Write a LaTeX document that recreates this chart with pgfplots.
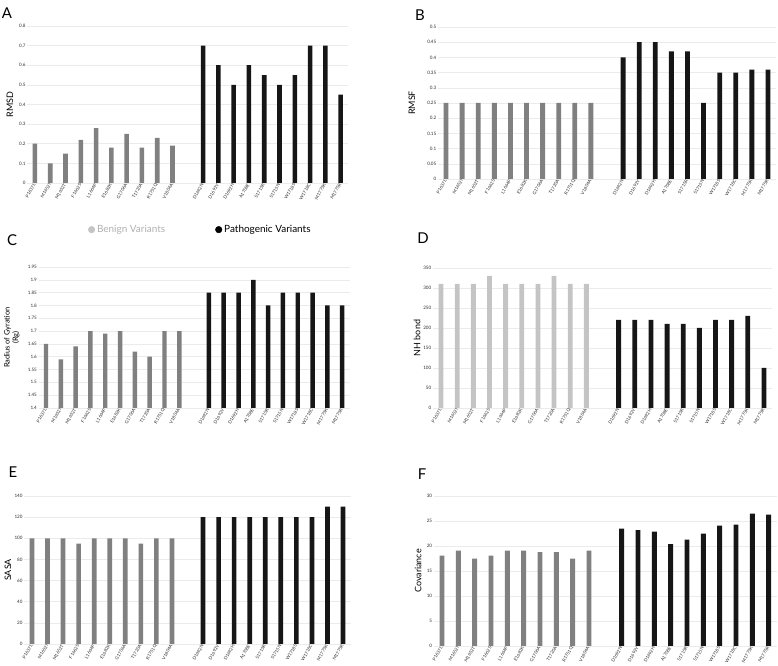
\documentclass[border=0pt]{standalone}
\usepackage{pgfplots}
\pgfplotsset{compat=1.18}
\usepackage{fontspec}
\setmainfont{Lato}
\definecolor{benign}{HTML}{808080}
\definecolor{benignlight}{HTML}{C4C4C4}
\definecolor{patho}{HTML}{161616}
\definecolor{gridc}{HTML}{EBEBEB}
\definecolor{tickc}{HTML}{2E2E2E}
\definecolor{legbenign}{HTML}{B0B0B0}
\pgfplotsset{
  panel/.style={
    scale only axis, xmin=-0.5, xmax=20.5, ymin=0,
    axis line style={draw=none}, major tick length=0pt,
    ymajorgrids, grid style={color=gridc, line width=0.5bp},
    xtick={0,1,2,3,4,5,6,7,8,9,11,12,13,14,15,16,17,18,19,20},
    xticklabels={P1637L,M1652I,M1652T,F1662S,L1664P,E1682K,G1706A,T1720A,R1751Q,V1804A,D1692N,D1692Y,D1692H,A1708E,S1715R,S1715N,W1718S,W1718C,M1775K,M1775R},
    xticklabel style={rotate=60, anchor=east, font=\fontsize{4.5}{4.5}\selectfont, color=tickc, inner sep=1bp},
    yticklabel style={font=\fontsize{4.6}{4.6}\selectfont, color=tickc, inner sep=1.5bp},
    ylabel style={font=\fontsize{9}{10}\selectfont, color=black, anchor=center, align=center},
    /pgf/number format/assume math mode=true,
    /pgf/number format/fixed,
    /pgf/number format/precision=2,
  },
  bars/.style={ybar, bar shift=0pt, bar width=0.3, draw=none, fill=#1},
}
\begin{document}
\begin{tikzpicture}
\useasboundingbox (0,0) rectangle (778bp,666bp);
% Panel A
\begin{axis}[panel, at={(27.3bp,483bp)}, anchor=south west, width=321bp, height=157bp,
  ymax=0.8, ytick={0,0.1,...,0.8}, ylabel={RMSD},
  ylabel style={at={(axis description cs:-0.054,0.5)}}]
\addplot[bars=benign] coordinates {(0,0.2) (1,0.1) (2,0.15) (3,0.22) (4,0.28) (5,0.18) (6,0.25) (7,0.18) (8,0.23) (9,0.19)};
\addplot[bars=patho] coordinates {(11,0.7) (12,0.6) (13,0.5) (14,0.6) (15,0.55) (16,0.5) (17,0.55) (18,0.7) (19,0.7) (20,0.45)};
\end{axis}
% Panel B
\begin{axis}[panel, at={(438bp,487bp)}, anchor=south west, width=338bp, height=152bp,
  ymax=0.5, ytick={0,0.05,...,0.5}, ylabel={RMSF},
  ylabel style={at={(axis description cs:-0.077,0.5)}}]
\addplot[bars=benign] coordinates {(0,0.25) (1,0.25) (2,0.25) (3,0.25) (4,0.25) (5,0.25) (6,0.25) (7,0.25) (8,0.25) (9,0.25)};
\addplot[bars=patho] coordinates {(11,0.4) (12,0.45) (13,0.45) (14,0.42) (15,0.42) (16,0.25) (17,0.35) (18,0.35) (19,0.36) (20,0.36)};
\end{axis}
% Panel C
\begin{axis}[panel, at={(38.6bp,258bp)}, anchor=south west, width=311bp, height=141bp,
  ymin=1.4, ymax=1.95, ytick={1.4,1.45,1.5,1.55,1.6,1.65,1.7,1.75,1.8,1.85,1.9,1.95},
  ylabel={Radius of Gyration\\(Rg)},
  ylabel style={at={(axis description cs:-0.086,0.5)}, font=\fontsize{7.5}{8.5}\selectfont},
  legend style={at={(axis description cs:0.52,1.265)}, anchor=center, draw=none, fill=none,
    legend columns=2, font=\fontsize{10}{11}\selectfont,
    /tikz/every even column/.append style={column sep=48bp}},
  legend cell align=left]
\addlegendimage{legend image code/.code={\fill[benignlight] (0.25cm,0bp) circle (3.3bp);}}
\addlegendentry{\textcolor{legbenign}{Benign Variants}}
\addlegendimage{legend image code/.code={\fill[black] (0.25cm,0bp) circle (3.3bp);}}
\addlegendentry{Pathogenic Variants}
\addplot[bars=benign] coordinates {(0,1.65) (1,1.59) (2,1.64) (3,1.7) (4,1.69) (5,1.7) (6,1.62) (7,1.6) (8,1.7) (9,1.7)};
\addplot[bars=patho] coordinates {(11,1.85) (12,1.85) (13,1.85) (14,1.9) (15,1.8) (16,1.85) (17,1.85) (18,1.85) (19,1.8) (20,1.8)};
\end{axis}
% Panel D
\begin{axis}[panel, at={(433bp,258bp)}, anchor=south west, width=339bp, height=140bp,
  ymax=350, ytick={0,50,...,350}, ylabel={NH bond},
  ylabel style={at={(axis description cs:-0.047,0.5)}}]
\addplot[bars=benignlight] coordinates {(0,310) (1,310) (2,310) (3,330) (4,310) (5,310) (6,310) (7,330) (8,310) (9,310)};
\addplot[bars=patho] coordinates {(11,220) (12,220) (13,220) (14,210) (15,210) (16,200) (17,220) (18,220) (19,230) (20,100)};
\end{axis}
% Panel E
\begin{axis}[panel, at={(24.2bp,22bp)}, anchor=south west, width=326.6bp, height=148bp,
  ymax=140, ytick={0,20,...,140}, ylabel={SASA},
  ylabel style={at={(axis description cs:-0.05,0.5)}}]
\addplot[bars=benign] coordinates {(0,100) (1,100) (2,100) (3,95) (4,100) (5,100) (6,100) (7,95) (8,100) (9,100)};
\addplot[bars=patho] coordinates {(11,120) (12,120) (13,120) (14,120) (15,120) (16,120) (17,120) (18,120) (19,130) (20,130)};
\end{axis}
% Panel F
\begin{axis}[panel, at={(433.8bp,20bp)}, anchor=south west, width=343bp, height=150bp,
  ymax=30, ytick={0,5,...,30}, ylabel={Covariance},
  ylabel style={at={(axis description cs:-0.046,0.5)}}]
\addplot[bars=benign] coordinates {(0,18.1) (1,19.1) (2,17.5) (3,18.1) (4,19.1) (5,19.1) (6,18.8) (7,18.8) (8,17.5) (9,19.1)};
\addplot[bars=patho] coordinates {(11,23.5) (12,23.2) (13,22.9) (14,20.4) (15,21.3) (16,22.5) (17,24.1) (18,24.3) (19,26.5) (20,26.3)};
\end{axis}
% Panel letters
\begin{scope}[every node/.style={font=\fontsize{15}{15}\selectfont, inner sep=0pt}]
\node at (7bp,653bp) {A};
\node at (420bp,651bp) {B};
\node at (12bp,426bp) {C};
\node at (423bp,428bp) {D};
\node at (13bp,194bp) {E};
\node at (422bp,192bp) {F};
\end{scope}
\end{tikzpicture}
\end{document}
